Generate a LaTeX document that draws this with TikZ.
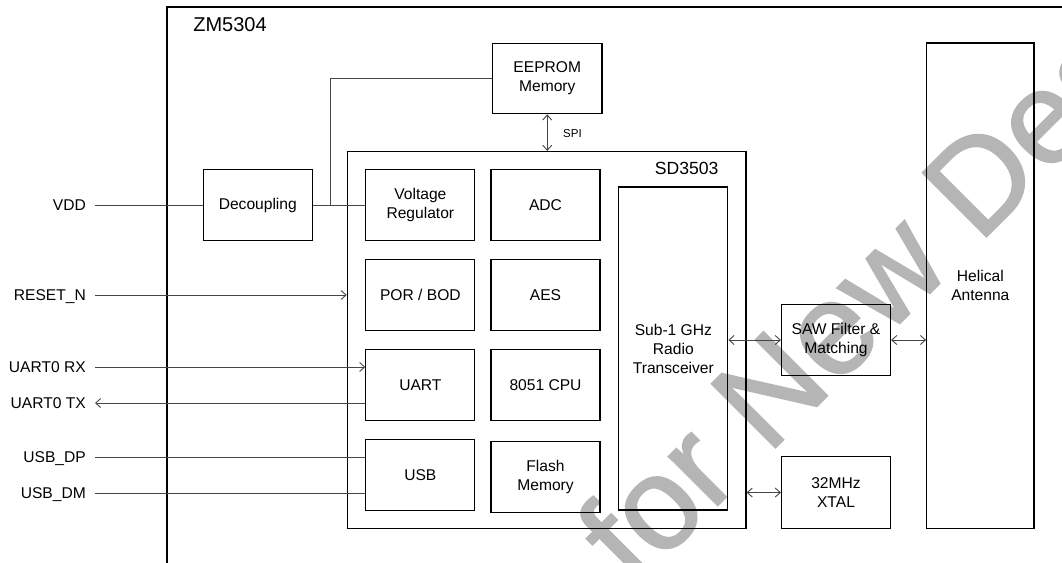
\documentclass[tikz,border=0pt]{standalone}
\usepackage{fontspec}
\setmainfont{Liberation Sans}
\newfontfamily\wmfont[FakeBold=1.5]{Liberation Sans}
\usetikzlibrary{arrows.meta}
\definecolor{wm}{RGB}{181,181,181}
\definecolor{ln}{RGB}{70,70,70}
\begin{document}
\begin{tikzpicture}[x=1pt,y=-1pt,
  box/.style={draw=black, line width=1.2pt, inner sep=0pt, align=center,
    minimum width=109pt, minimum height=71.5pt, font=\fontsize{15.6}{19}\selectfont},
  lbl/.style={anchor=east, inner xsep=0pt, text height=10.9pt, text depth=0pt,
    font=\fontsize{15.6}{19}\selectfont},
  conn/.style={draw=ln, line width=0.9pt},
  tipo/.style={-{Straight Barb[length=5pt,width=9pt]}},
  tipb/.style={{Straight Barb[length=5pt,width=9pt]}-{Straight Barb[length=5pt,width=9pt]}}]
\useasboundingbox (0,0) rectangle (1062,562);
\clip (0,0) rectangle (1062,562);
\fill[white] (0,0) rectangle (1062,562);
% watermark
\node[rotate=45, anchor=base west, inner sep=0pt, text=wm,
  font=\wmfont\fontsize{131}{131}\selectfont] (wmk) at (634,589) {for New Designs};
% outer module frame
\coordinate (zmbl) at (167,575);
\coordinate (zmtl) at (167,7);
\coordinate (zmtr) at (1075,7);
\draw[line width=2pt] (zmbl) -- (zmtl) -- (zmtr);
\node[font=\fontsize{20}{24}\selectfont, inner sep=0pt] (zml) at (230,24.2) {ZM5304};
% boxes
\node[box, minimum width=109.5pt, minimum height=70.5pt] (eep) at (547.25,78.5) {EEPROM\\Memory};
\node[draw=black, line width=1.2pt, minimum width=398.7pt, minimum height=376.8pt, inner sep=0pt] (sd) at (546.65,339.9) {};
\node[font=\fontsize{17.6}{20}\selectfont, inner sep=0pt] (sdl) at (686.7,168.8) {SD3503};
\node[box] (dec) at (257.8,205) {Decoupling};
\node[box] (vr) at (420.35,205) {Voltage\\Regulator};
\node[box] (adc) at (545.5,205) {ADC};
\node[box] (por) at (420.35,295) {POR / BOD};
\node[box] (aes) at (545.5,295) {AES};
\node[box] (uart) at (420.35,385) {UART};
\node[box] (cpu) at (545.5,385) {8051 CPU};
\node[box] (usb) at (420.35,475) {USB};
\node[box] (fl) at (545.5,477) {Flash\\Memory};
\node[box, minimum height=323pt] (rf) at (673.35,348.5) {Sub-1 GHz\\Radio\\Transceiver};
\node[box] (saw) at (836,340) {SAW Filter \&\\Matching};
\node[box] (xt) at (836,492.5) {32MHz\\XTAL};
\node[box, minimum width=107.3pt, minimum height=485.3pt] (hel) at (980.35,285.65) {Helical\\Antenna};
% pin labels
\node[lbl] (vdd) at (86,205) {VDD};
\node[lbl] (rst) at (86,295) {RESET\_N};
\node[lbl] (rx) at (86,367) {UART0 RX};
\node[lbl] (tx) at (86,403) {UART0 TX};
\node[lbl] (dp) at (86,457) {USB\_DP};
\node[lbl] (dm) at (86,493) {USB\_DM};
% connectors
\coordinate (jn) at (330,205);
\draw[conn] ([xshift=9pt]vdd.east) -- (dec.west);
\draw[conn] (dec.east) -- (vr.west);
\draw[conn] (jn) |- (eep.west);
\draw[conn, tipb] (eep.south) -- (eep.south |- sd.north);
\node[font=\fontsize{11.5}{13}\selectfont, inner sep=0pt] (spi) at (572.5,134) {SPI};
\draw[conn, tipo] ([xshift=9pt]rst.east) -- (rst.east -| sd.west);
\draw[conn, tipo] ([xshift=9pt]rx.east) -- (rx.east -| uart.west);
\draw[conn, tipo] (tx.east -| uart.west) -- ([xshift=9pt]tx.east);
\draw[conn] ([xshift=9pt]dp.east) -- (dp.east -| usb.west);
\draw[conn] ([xshift=9pt]dm.east) -- (dm.east -| usb.west);
\draw[conn, tipb] (rf.east |- saw.west) -- (saw.west);
\draw[conn, tipb] (saw.east) -- (saw.east -| hel.west);
\draw[conn, tipb] (sd.east |- xt.west) -- (xt.west);
\end{tikzpicture}
\end{document}
